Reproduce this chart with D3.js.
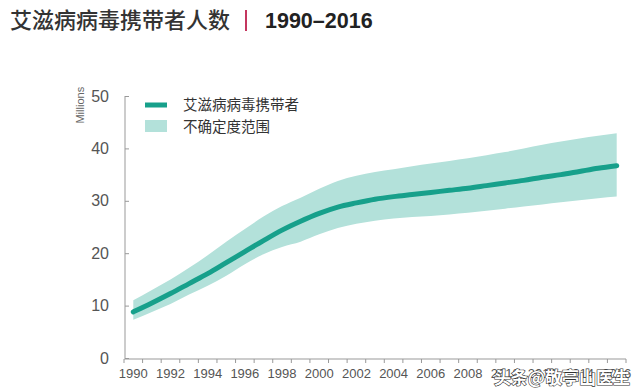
<!DOCTYPE html>
<html>
<head>
<meta charset="utf-8">
<script src="https://cdn.jsdelivr.net/npm/d3@7"></script>
<style>
  body { margin: 0; background: #fff; }
  svg { display: block; font-family: "Liberation Sans", Arial, sans-serif; }
</style>
</head>
<body>
<svg id="chart" width="643" height="391"></svg>
<script>
// people living with HIV, millions (central estimate + uncertainty range)
const years = d3.range(1990, 2017);
const central = [8.8, 10.5, 12.3, 14.2, 16.1, 18.2, 20.3, 22.4, 24.4, 26.1,
                 27.6, 28.8, 29.6, 30.3, 30.8, 31.2, 31.6, 32.0, 32.4, 32.9,
                 33.4, 33.9, 34.5, 35.0, 35.6, 36.2, 36.7];
const low = [7.3, 8.8, 10.3, 12.1, 13.8, 15.7, 17.9, 19.8, 21.2, 22.2,
             23.6, 24.8, 25.6, 26.2, 26.6, 26.9, 27.1, 27.4, 27.7, 28.1,
             28.5, 28.9, 29.3, 29.7, 30.1, 30.5, 30.8];
const high = [11.0, 13.0, 15.0, 17.2, 19.6, 22.2, 24.6, 27.0, 29.0, 30.6,
              32.3, 33.8, 34.8, 35.5, 36.0, 36.6, 37.1, 37.6, 38.1, 38.7,
              39.3, 40.0, 40.7, 41.3, 41.9, 42.4, 42.9];
const yTicks = [0, 10, 20, 30, 40, 50];
const xLabels = d3.range(1990, 2017, 2);

const svg = d3.select('#chart');

const x = d3.scaleBand().domain(years).range([124, 626]);
const y = d3.scaleLinear().domain([0, 50]).range([358, 96]);
const cx = d => x(d) + x.bandwidth() / 2;

// title
svg.append('text').attr('x', 10).attr('y', 28)
    .style('font-family', '"Noto Sans CJK SC", sans-serif')
    .style('font-size', '22px').style('font-weight', 500).attr('fill', '#333')
    .text('艾滋病病毒携带者人数');
svg.append('rect').attr('x', 245).attr('y', 10).attr('width', 2).attr('height', 21).attr('fill', '#c4365f');
svg.append('text').attr('x', 265).attr('y', 28)
    .style('font-size', '21.5px').style('font-weight', 'bold').attr('fill', '#222')
    .text('1990–2016');

// uncertainty band
const area = d3.area()
    .x((d, i) => cx(years[i]))
    .y0((d, i) => y(low[i]))
    .y1((d, i) => y(high[i]))
    .curve(d3.curveMonotoneX);
svg.append('path').datum(central).attr('d', area).attr('fill', '#b3e1da');

const line = d3.line()
    .x((d, i) => cx(years[i]))
    .y(d => y(d))
    .curve(d3.curveMonotoneX);
svg.append('path').datum(central).attr('d', line)
    .attr('fill', 'none').attr('stroke', '#17a08b').attr('stroke-width', 5)
    .attr('stroke-linecap', 'round');

// y axis
const yAxis = svg.append('g').attr('transform', 'translate(125,0)')
    .call(d3.axisRight(y).tickValues(yTicks).tickSize(4).tickFormat(d => d));
yAxis.select('.domain').attr('stroke', '#999').attr('d', `M0,${y(50)}V${y(0)}`);
yAxis.selectAll('.tick line').attr('stroke', '#999');
yAxis.selectAll('.tick text').attr('x', -16).attr('text-anchor', 'end')
    .style('font-size', '16px').attr('fill', '#555');

svg.append('text')
    .attr('transform', `translate(84,${(y(50) + y(40)) / 2 - 17}) rotate(-90)`)
    .attr('text-anchor', 'middle')
    .style('font-size', '11px').attr('fill', '#666')
    .text('Millions');

// x axis
const xg = svg.append('g').attr('transform', 'translate(0,359)');
xg.append('line').attr('x1', 124).attr('x2', 626).attr('stroke', '#999');
xg.selectAll('.tk').data(years.concat([2017])).enter().append('line')
    .attr('x1', d => d === 2017 ? 626 : x(d)).attr('x2', d => d === 2017 ? 626 : x(d))
    .attr('y1', 0).attr('y2', 4).attr('stroke', '#999');
xg.selectAll('.lb').data(xLabels).enter().append('text')
    .attr('x', d => cx(d)).attr('y', 19).attr('text-anchor', 'middle')
    .style('font-size', '13px').attr('fill', '#555')
    .text(d => d);

// legend
const lg = svg.append('g').style('font-family', '"Noto Sans CJK SC", sans-serif');
lg.append('line').attr('x1', 145).attr('x2', 167).attr('y1', 105).attr('y2', 105)
    .attr('stroke', '#17a08b').attr('stroke-width', 5);
lg.append('rect').attr('x', 145).attr('y', 120).attr('width', 22).attr('height', 12)
    .attr('fill', '#b3e1da');
lg.append('text').attr('x', 183).attr('y', 110).style('font-size', '14.5px').attr('fill', '#333')
    .text('艾滋病病毒携带者');
lg.append('text').attr('x', 183).attr('y', 132).style('font-size', '14.5px').attr('fill', '#333')
    .text('不确定度范围');

// watermark
svg.append('text').attr('x', 630).attr('y', 384).attr('text-anchor', 'end')
    .style('font-family', '"Noto Sans CJK SC", sans-serif')
    .style('font-size', '17px').style('font-weight', 'bold')
    .attr('fill', '#fff').attr('stroke', '#333').attr('stroke-width', 1.2)
    .style('paint-order', 'stroke')
    .text('头条@敬亭山医生');
</script>
</body>
</html>
